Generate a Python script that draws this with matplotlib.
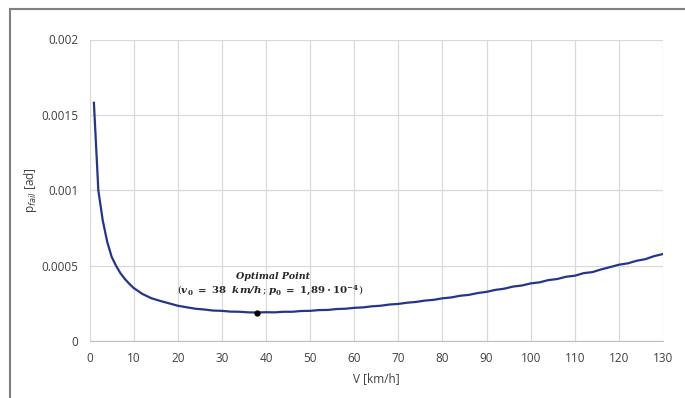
import matplotlib.pyplot as plt
from matplotlib.patches import Rectangle

# velocidade [km/h] e probabilidade de falha
velocidade = [1, 2, 3, 4, 5, 6, 7, 8, 9, 10,
              12, 14, 16, 18, 20, 22, 24, 26, 28, 30,
              32, 34, 36, 38, 40, 42, 44, 46, 48, 50,
              52, 54, 56, 58, 60, 62, 64, 66, 68, 70,
              72, 74, 76, 78, 80, 82, 84, 86, 88, 90,
              92, 94, 96, 98, 100, 102, 104, 106, 108, 110,
              112, 114, 116, 118, 120, 122, 124, 126, 128, 130]
p_fail = [0.00158, 0.00100, 0.00080, 0.00066, 0.00056, 0.00050, 0.00045, 0.000412, 0.00038, 0.000352,
          0.000312, 0.000284, 0.000266, 0.000250, 0.000234, 0.000224, 0.000214, 0.000209, 0.000202, 0.000200,
          0.000195, 0.000194, 0.000190, 0.000189, 0.000191, 0.000190, 0.000194, 0.000194, 0.000199, 0.000200,
          0.000205, 0.000206, 0.000212, 0.000214, 0.000220, 0.000223, 0.000230, 0.000234, 0.000242, 0.000246,
          0.000254, 0.000259, 0.000268, 0.000273, 0.000283, 0.000289, 0.000300, 0.000306, 0.000318, 0.000326,
          0.000339, 0.000347, 0.000361, 0.000368, 0.000382, 0.000389, 0.000404, 0.000411, 0.000426, 0.000433,
          0.000450, 0.000457, 0.000475, 0.000490, 0.000506, 0.000515, 0.000532, 0.000543, 0.000563, 0.000577]

v_otimo = 38
p_otimo = 0.000189

x_ticks = list(range(0, 131, 10))
y_ticks = [0, 0.0005, 0.001, 0.0015, 0.002]
y_labels = ['0', '0.0005', '0.001', '0.0015', '0.002']

plt.rcParams['font.family'] = ['Open Sans', 'DejaVu Sans']

fig = plt.figure(figsize=(6.85, 3.98), dpi=100)
# moldura cinza (cortada a direita e embaixo)
fig.patches.append(Rectangle((10 / 685, -0.05), 1.2, 1 - 9 / 398 + 0.05, transform=fig.transFigure,
                             fill=False, edgecolor='#7f7f7f', linewidth=1.5))

ax = fig.add_axes([89.5 / 685, 1 - 341 / 398, (663 - 89.5) / 685, (341 - 39.5) / 398])

ax.plot(velocidade, p_fail, color='#26358c', linewidth=1.6, zorder=3)
ax.plot([v_otimo], [p_otimo], 'o', color='black', markersize=3.5, zorder=4)

ax.text(41.6, 0.000425, 'Optimal Point', ha='center', va='center', fontsize=6.8,
        fontstyle='italic', fontweight='bold', family='DejaVu Serif', color='#262626')
ax.text(40.9, 0.000335,
        r'$(\mathbfit{v}_\mathbf{0}\mathbf{\ =\ 38}\ \ \mathbfit{km/h}\,;\mathbfit{p}_\mathbf{0}'
        r'\mathbf{\ =\ 1{,}89\cdot10^{-4}})$',
        ha='center', va='center', fontsize=7.4, math_fontfamily='dejavuserif', color='#262626')

ax.set_xlim(0, 130)
ax.set_ylim(0, 0.002)
ax.set_xticks(x_ticks)
ax.set_yticks(y_ticks)
ax.set_yticklabels(y_labels)
ax.grid(True, color='#d9d9d9', linewidth=0.9)
ax.set_axisbelow(True)
ax.tick_params(length=0, labelsize=8.5, colors='#404040')
ax.tick_params(axis='x', pad=8)
ax.tick_params(axis='y', pad=8)
for s in ['top', 'right', 'left']:
    ax.spines[s].set_visible(False)
ax.spines['bottom'].set_color('#bfbfbf')

ax.set_xlabel('V [km/h]', fontsize=8.5, color='#404040', labelpad=5)
ax.set_ylabel(r'p$_{fail}$ [ad]', fontsize=8.5, color='#404040', labelpad=2)

fig.savefig('out.png', dpi=100)
